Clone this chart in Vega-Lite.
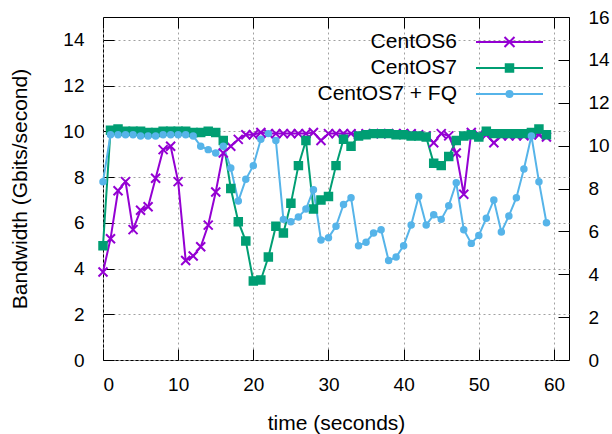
{
  "$schema": "https://vega.github.io/schema/vega-lite/v6.json",
  "width": 466,
  "height": 343,
  "autosize": {"type": "none"},
  "padding": {"left": 103, "top": 17, "right": 43, "bottom": 74},
  "background": "white",
  "config": {
    "view": {"stroke": "black", "strokeWidth": 1},
    "font": "Liberation Sans",
    "axis": {
      "labelFont": "Liberation Sans",
      "labelFontSize": 19,
      "labelColor": "black",
      "titleFont": "Liberation Sans",
      "titleFontSize": 21,
      "titleFontWeight": "normal",
      "titleColor": "black",
      "tickColor": "black",
      "tickWidth": 1,
      "tickSize": -11,
      "domain": false,
      "gridColor": "#a0a0a0",
      "gridDash": [2, 3],
      "gridWidth": 1
    },
    "legend": {
      "labelFont": "Liberation Sans",
      "labelFontSize": 21,
      "labelColor": "black"
    }
  },
  "data": {
    "values": [
      {"t":0,"series":"CentOS6","bw":3.85},{"t":1,"series":"CentOS6","bw":5.3},{"t":2,"series":"CentOS6","bw":7.4},{"t":3,"series":"CentOS6","bw":7.8},{"t":4,"series":"CentOS6","bw":5.7},{"t":5,"series":"CentOS6","bw":6.55},{"t":6,"series":"CentOS6","bw":6.7},{"t":7,"series":"CentOS6","bw":7.95},{"t":8,"series":"CentOS6","bw":9.2},{"t":9,"series":"CentOS6","bw":9.35},
      {"t":10,"series":"CentOS6","bw":7.8},{"t":11,"series":"CentOS6","bw":4.35},{"t":12,"series":"CentOS6","bw":4.55},{"t":13,"series":"CentOS6","bw":4.95},{"t":14,"series":"CentOS6","bw":5.9},{"t":15,"series":"CentOS6","bw":7.35},{"t":16,"series":"CentOS6","bw":9.05},{"t":17,"series":"CentOS6","bw":9.35},{"t":18,"series":"CentOS6","bw":9.65},{"t":19,"series":"CentOS6","bw":9.85},
      {"t":20,"series":"CentOS6","bw":9.85},{"t":21,"series":"CentOS6","bw":9.95},{"t":22,"series":"CentOS6","bw":9.9},{"t":23,"series":"CentOS6","bw":9.9},{"t":24,"series":"CentOS6","bw":9.9},{"t":25,"series":"CentOS6","bw":9.9},{"t":26,"series":"CentOS6","bw":9.9},{"t":27,"series":"CentOS6","bw":9.9},{"t":28,"series":"CentOS6","bw":9.95},{"t":29,"series":"CentOS6","bw":9.6},
      {"t":30,"series":"CentOS6","bw":9.9},{"t":31,"series":"CentOS6","bw":9.9},{"t":32,"series":"CentOS6","bw":9.9},{"t":33,"series":"CentOS6","bw":9.9},{"t":34,"series":"CentOS6","bw":9.85},{"t":35,"series":"CentOS6","bw":9.9},{"t":36,"series":"CentOS6","bw":9.9},{"t":37,"series":"CentOS6","bw":9.9},{"t":38,"series":"CentOS6","bw":9.9},{"t":39,"series":"CentOS6","bw":9.9},
      {"t":40,"series":"CentOS6","bw":9.9},{"t":41,"series":"CentOS6","bw":9.9},{"t":42,"series":"CentOS6","bw":9.85},{"t":43,"series":"CentOS6","bw":9.8},{"t":44,"series":"CentOS6","bw":9.5},{"t":45,"series":"CentOS6","bw":9.9},{"t":46,"series":"CentOS6","bw":9.8},{"t":47,"series":"CentOS6","bw":9.05},{"t":48,"series":"CentOS6","bw":7.25},{"t":49,"series":"CentOS6","bw":9.95},
      {"t":50,"series":"CentOS6","bw":9.85},{"t":51,"series":"CentOS6","bw":9.85},{"t":52,"series":"CentOS6","bw":9.5},{"t":53,"series":"CentOS6","bw":9.8},{"t":54,"series":"CentOS6","bw":9.8},{"t":55,"series":"CentOS6","bw":9.8},{"t":56,"series":"CentOS6","bw":9.8},{"t":57,"series":"CentOS6","bw":9.85},{"t":58,"series":"CentOS6","bw":9.85},{"t":59,"series":"CentOS6","bw":9.75},

      {"t":0,"series":"CentOS7","bw":5.0},{"t":1,"series":"CentOS7","bw":10.05},{"t":2,"series":"CentOS7","bw":10.1},{"t":3,"series":"CentOS7","bw":10.0},{"t":4,"series":"CentOS7","bw":10.0},{"t":5,"series":"CentOS7","bw":10.0},{"t":6,"series":"CentOS7","bw":9.95},{"t":7,"series":"CentOS7","bw":9.95},{"t":8,"series":"CentOS7","bw":10.0},{"t":9,"series":"CentOS7","bw":10.0},
      {"t":10,"series":"CentOS7","bw":10.0},{"t":11,"series":"CentOS7","bw":10.0},{"t":12,"series":"CentOS7","bw":9.95},{"t":13,"series":"CentOS7","bw":9.95},{"t":14,"series":"CentOS7","bw":10.0},{"t":15,"series":"CentOS7","bw":9.95},{"t":16,"series":"CentOS7","bw":9.6},{"t":17,"series":"CentOS7","bw":7.5},{"t":18,"series":"CentOS7","bw":6.05},{"t":19,"series":"CentOS7","bw":5.2},
      {"t":20,"series":"CentOS7","bw":3.45},{"t":21,"series":"CentOS7","bw":3.5},{"t":22,"series":"CentOS7","bw":4.5},{"t":23,"series":"CentOS7","bw":5.85},{"t":24,"series":"CentOS7","bw":5.55},{"t":25,"series":"CentOS7","bw":6.85},{"t":26,"series":"CentOS7","bw":8.5},{"t":27,"series":"CentOS7","bw":9.6},{"t":28,"series":"CentOS7","bw":6.6},{"t":29,"series":"CentOS7","bw":7.0},
      {"t":30,"series":"CentOS7","bw":7.15},{"t":31,"series":"CentOS7","bw":8.5},{"t":32,"series":"CentOS7","bw":9.65},{"t":33,"series":"CentOS7","bw":9.35},{"t":34,"series":"CentOS7","bw":9.8},{"t":35,"series":"CentOS7","bw":9.85},{"t":36,"series":"CentOS7","bw":9.9},{"t":37,"series":"CentOS7","bw":9.9},{"t":38,"series":"CentOS7","bw":9.9},{"t":39,"series":"CentOS7","bw":9.85},
      {"t":40,"series":"CentOS7","bw":9.85},{"t":41,"series":"CentOS7","bw":9.8},{"t":42,"series":"CentOS7","bw":9.8},{"t":43,"series":"CentOS7","bw":9.75},{"t":44,"series":"CentOS7","bw":8.6},{"t":45,"series":"CentOS7","bw":8.5},{"t":46,"series":"CentOS7","bw":8.9},{"t":47,"series":"CentOS7","bw":9.6},{"t":48,"series":"CentOS7","bw":9.8},{"t":49,"series":"CentOS7","bw":9.85},
      {"t":50,"series":"CentOS7","bw":9.75},{"t":51,"series":"CentOS7","bw":10.0},{"t":52,"series":"CentOS7","bw":9.9},{"t":53,"series":"CentOS7","bw":9.9},{"t":54,"series":"CentOS7","bw":9.9},{"t":55,"series":"CentOS7","bw":9.9},{"t":56,"series":"CentOS7","bw":9.9},{"t":57,"series":"CentOS7","bw":9.95},{"t":58,"series":"CentOS7","bw":10.1},{"t":59,"series":"CentOS7","bw":9.85},

      {"t":0,"series":"CentOS7 + FQ","bw":7.8},{"t":1,"series":"CentOS7 + FQ","bw":9.85},{"t":2,"series":"CentOS7 + FQ","bw":9.85},{"t":3,"series":"CentOS7 + FQ","bw":9.85},{"t":4,"series":"CentOS7 + FQ","bw":9.85},{"t":5,"series":"CentOS7 + FQ","bw":9.8},{"t":6,"series":"CentOS7 + FQ","bw":9.8},{"t":7,"series":"CentOS7 + FQ","bw":9.8},{"t":8,"series":"CentOS7 + FQ","bw":9.85},{"t":9,"series":"CentOS7 + FQ","bw":9.85},
      {"t":10,"series":"CentOS7 + FQ","bw":9.85},{"t":11,"series":"CentOS7 + FQ","bw":9.85},{"t":12,"series":"CentOS7 + FQ","bw":9.8},{"t":13,"series":"CentOS7 + FQ","bw":9.35},{"t":14,"series":"CentOS7 + FQ","bw":9.2},{"t":15,"series":"CentOS7 + FQ","bw":9.05},{"t":16,"series":"CentOS7 + FQ","bw":9.35},{"t":17,"series":"CentOS7 + FQ","bw":8.4},{"t":18,"series":"CentOS7 + FQ","bw":6.95},{"t":19,"series":"CentOS7 + FQ","bw":7.9},
      {"t":20,"series":"CentOS7 + FQ","bw":8.5},{"t":21,"series":"CentOS7 + FQ","bw":9.65},{"t":22,"series":"CentOS7 + FQ","bw":9.9},{"t":23,"series":"CentOS7 + FQ","bw":9.6},{"t":24,"series":"CentOS7 + FQ","bw":6.15},{"t":25,"series":"CentOS7 + FQ","bw":6.05},{"t":26,"series":"CentOS7 + FQ","bw":6.25},{"t":27,"series":"CentOS7 + FQ","bw":6.6},{"t":28,"series":"CentOS7 + FQ","bw":7.45},{"t":29,"series":"CentOS7 + FQ","bw":5.25},
      {"t":30,"series":"CentOS7 + FQ","bw":5.35},{"t":31,"series":"CentOS7 + FQ","bw":5.85},{"t":32,"series":"CentOS7 + FQ","bw":6.8},{"t":33,"series":"CentOS7 + FQ","bw":7.1},{"t":34,"series":"CentOS7 + FQ","bw":5.0},{"t":35,"series":"CentOS7 + FQ","bw":5.15},{"t":36,"series":"CentOS7 + FQ","bw":5.55},{"t":37,"series":"CentOS7 + FQ","bw":5.7},{"t":38,"series":"CentOS7 + FQ","bw":4.35},{"t":39,"series":"CentOS7 + FQ","bw":4.5},
      {"t":40,"series":"CentOS7 + FQ","bw":5.0},{"t":41,"series":"CentOS7 + FQ","bw":5.9},{"t":42,"series":"CentOS7 + FQ","bw":7.15},{"t":43,"series":"CentOS7 + FQ","bw":5.9},{"t":44,"series":"CentOS7 + FQ","bw":6.35},{"t":45,"series":"CentOS7 + FQ","bw":6.15},{"t":46,"series":"CentOS7 + FQ","bw":6.75},{"t":47,"series":"CentOS7 + FQ","bw":7.75},{"t":48,"series":"CentOS7 + FQ","bw":5.7},{"t":49,"series":"CentOS7 + FQ","bw":5.1},
      {"t":50,"series":"CentOS7 + FQ","bw":5.45},{"t":51,"series":"CentOS7 + FQ","bw":6.2},{"t":52,"series":"CentOS7 + FQ","bw":7.0},{"t":53,"series":"CentOS7 + FQ","bw":5.6},{"t":54,"series":"CentOS7 + FQ","bw":6.3},{"t":55,"series":"CentOS7 + FQ","bw":7.1},{"t":56,"series":"CentOS7 + FQ","bw":8.35},{"t":57,"series":"CentOS7 + FQ","bw":9.8},{"t":58,"series":"CentOS7 + FQ","bw":7.8},{"t":59,"series":"CentOS7 + FQ","bw":6.0}
    ]
  },
  "layer": [
    {
      "layer": [
        {
          "mark": {"type": "line", "strokeWidth": 2},
          "encoding": {
            "x": {"field": "t", "type": "quantitative", "scale": {"domain": [0, 62], "nice": false, "zero": false},
                  "axis": {"orient": "bottom", "values": [0,10,20,30,40,50,60], "grid": true, "title": "time (seconds)", "labelPadding": 26, "titlePadding": 18}},
            "y": {"field": "bw", "type": "quantitative", "scale": {"domain": [0, 15], "nice": false},
                  "axis": {"orient": "left", "values": [0,2,4,6,8,10,12,14], "grid": true, "title": "Bandwidth (Gbits/second)", "labelPadding": 30, "titlePadding": 32}},
            "color": {"field": "series", "type": "nominal",
                      "scale": {"domain": ["CentOS6", "CentOS7", "CentOS7 + FQ"], "range": ["#9400d3", "#009e73", "#56b4e9"]},
                      "legend": {
                        "orient": "none", "legendX": 396, "legendY": 14.5, "title": null, "padding": 0,
                        "rowPadding": 4, "labelOffset": -63, "labelAlign": "right",
                        "symbolSize": 100, "symbolStrokeWidth": 2,
                        "encode": {"symbols": {"update": {
                          "shape": {"signal": "datum.value === 'CentOS6' ? 'M-6.7,0L6.7,0M-1,-1L1,1M-1,1L1,-1' : datum.value === 'CentOS7' ? 'M-6.7,0L6.7,0M-0.75,-0.75L0.75,-0.75L0.75,0.75L-0.75,0.75Z' : 'M-6.7,0L6.7,0M0.6,0A0.6,0.6 0 1,1 -0.6,0A0.6,0.6 0 1,1 0.6,0Z'"},
                          "fill": {"signal": "scale('color', datum.value)"},
                          "stroke": {"signal": "scale('color', datum.value)"},
                          "strokeWidth": {"value": 2},
                          "opacity": {"value": 1}
                        }}}
                      }}
          }
        },
        {
          "transform": [{"filter": "datum.series === 'CentOS6'"}],
          "mark": {"type": "point", "shape": "M-1,-1L1,1M-1,1L1,-1", "size": 81, "filled": true, "fill": "#9400d3", "stroke": "#9400d3", "strokeWidth": 2, "opacity": 1},
          "encoding": {
            "x": {"field": "t", "type": "quantitative"},
            "y": {"field": "bw", "type": "quantitative"}
          }
        },
        {
          "transform": [{"filter": "datum.series === 'CentOS7'"}],
          "mark": {"type": "point", "shape": "square", "size": 56, "filled": true, "fill": "#009e73", "stroke": "#009e73", "strokeWidth": 2, "opacity": 1},
          "encoding": {
            "x": {"field": "t", "type": "quantitative"},
            "y": {"field": "bw", "type": "quantitative"}
          }
        },
        {
          "transform": [{"filter": "datum.series === 'CentOS7 + FQ'"}],
          "mark": {"type": "point", "shape": "circle", "size": 30, "filled": true, "fill": "#56b4e9", "stroke": "#56b4e9", "strokeWidth": 2, "opacity": 1},
          "encoding": {
            "x": {"field": "t", "type": "quantitative"},
            "y": {"field": "bw", "type": "quantitative"}
          }
        }
      ]
    },
    {
      "mark": {"type": "point", "opacity": 0},
      "encoding": {
        "x": {"field": "t", "type": "quantitative", "scale": {"domain": [0, 62], "nice": false, "zero": false},
              "axis": {"orient": "top", "values": [0,10,20,30,40,50,60], "labels": false, "grid": false, "title": null}},
        "y": {"field": "bw", "type": "quantitative", "scale": {"domain": [0, 16], "nice": false},
              "axis": {"orient": "right", "values": [0,2,4,6,8,10,12,14,16], "grid": false, "title": null, "labelPadding": 30}}
      }
    }
  ],
  "resolve": {"scale": {"y": "independent"}, "axis": {"x": "independent", "y": "independent"}}
}
